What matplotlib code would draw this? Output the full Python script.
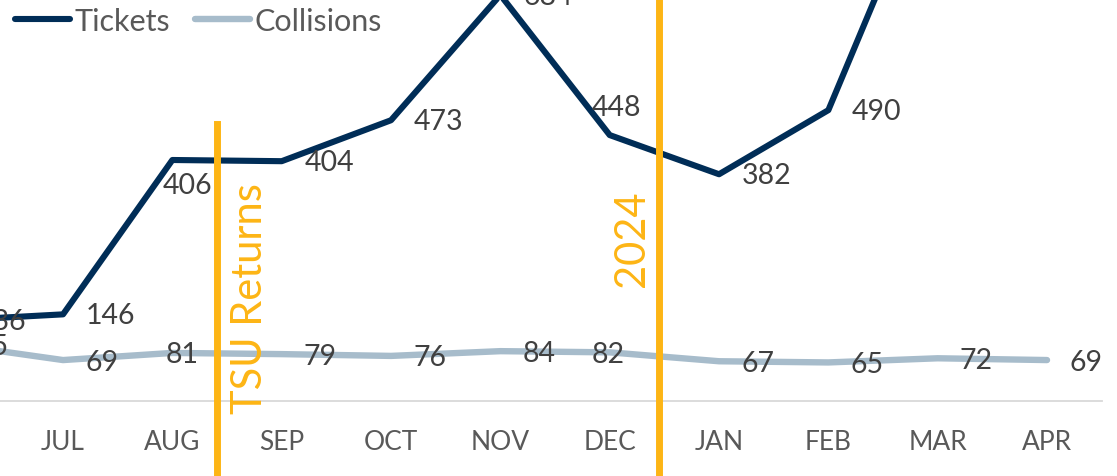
import matplotlib
matplotlib.use("Agg")
import matplotlib.pyplot as plt
from matplotlib import transforms

plt.rcParams['font.family'] = ['Lato', 'DejaVu Sans']

months = ["JUN", "JUL", "AUG", "SEP", "OCT", "NOV", "DEC", "JAN", "FEB", "MAR", "APR"]
tickets = [136, 146, 406, 404, 473, 684, 448, 382, 490, 930, 850]
collisions = [95, 69, 81, 79, 76, 84, 82, 67, 65, 72, 69]
events = ["TSU Returns", "2024"]

NAVY = "#002D57"
LIGHT = "#A7BCCB"
GOLD = "#FDB515"
LABEL = "#404040"
GRAY = "#595959"

fig = plt.figure(figsize=(11.17, 4.77), dpi=100)
ax = fig.add_axes([0, 0, 1, 1])
x = list(range(len(months)))
ax.set_xlim(0.4235, 10.640)
ax.set_ylim(-126.3, 677.2)

for s in ["left", "top", "right"]:
    ax.spines[s].set_visible(False)
ax.spines["bottom"].set_position(("data", 0))
ax.spines["bottom"].set_bounds(0.4235, 10.5)
ax.spines["bottom"].set_color("#D9D9D9")
ax.spines["bottom"].set_linewidth(1.3)
ax.set_xticks([])
ax.set_yticks([])

lt, = ax.plot(x, tickets, color=NAVY, lw=4.4, solid_joinstyle="round",
              solid_capstyle="round", label="Tickets", zorder=3)
lc, = ax.plot(x, collisions, color=LIGHT, lw=4.6, solid_joinstyle="round",
              solid_capstyle="round", label="Collisions", zorder=3)

px = 0.72  # points per pixel
# tickets labels
for i, v in enumerate(tickets):
    ha, dx, dy = "left", 23, -1
    if months[i] == "AUG":
        ha, dx, dy = "center", 15, -25
    elif months[i] == "DEC":
        ha, dx, dy = "center", 7, 28
    ax.annotate(f"{v}", (i, v), xytext=(dx * px, dy * px), textcoords="offset points",
                ha=ha, va="center", fontsize=20.5, color=LABEL, zorder=5,
                annotation_clip=False)
for i, v in enumerate(collisions):
    ha, dx, dy = "left", 22, -1.5
    if months[i] == "AUG":
        ha, dx, dy = "center", 9.5, -1
    elif months[i] == "DEC":
        ha, dx, dy = "center", -2, -2
    ax.annotate(f"{v}", (i, v), xytext=(dx * px, dy * px), textcoords="offset points",
                ha=ha, va="center", fontsize=20.5, color=LABEL, zorder=5,
                annotation_clip=False)

# month labels
tr = transforms.blended_transform_factory(ax.transData, ax.transAxes)
for i, m in enumerate(months):
    ax.text(i, 1 - 442 / 477, m, transform=tr, ha="center", va="center",
            fontsize=19, color=GRAY)

# event markers
ax.plot([2.408, 2.408], [466.6, -126.3], color=GOLD, lw=5, zorder=4, clip_on=False)
ax.axvline(6.451, color=GOLD, lw=5, zorder=4)
ax.text(2.710, 173.5, events[0], rotation=90, ha="center", va="center",
        fontsize=30, color=GOLD, zorder=6)
ax.text(6.204, 275.4, events[1], rotation=90, ha="center", va="center",
        fontsize=30, color=GOLD, zorder=6)

leg = ax.legend(handles=[lt, lc], loc="upper left", ncol=2, frameon=False,
                bbox_to_anchor=(15 / 1117, 1 - 8 / 477), borderpad=0, borderaxespad=0,
                handlelength=1.8, handletextpad=0.16, columnspacing=0.8,
                fontsize=22, labelcolor=GRAY)

fig.savefig("out.png", dpi=100)
